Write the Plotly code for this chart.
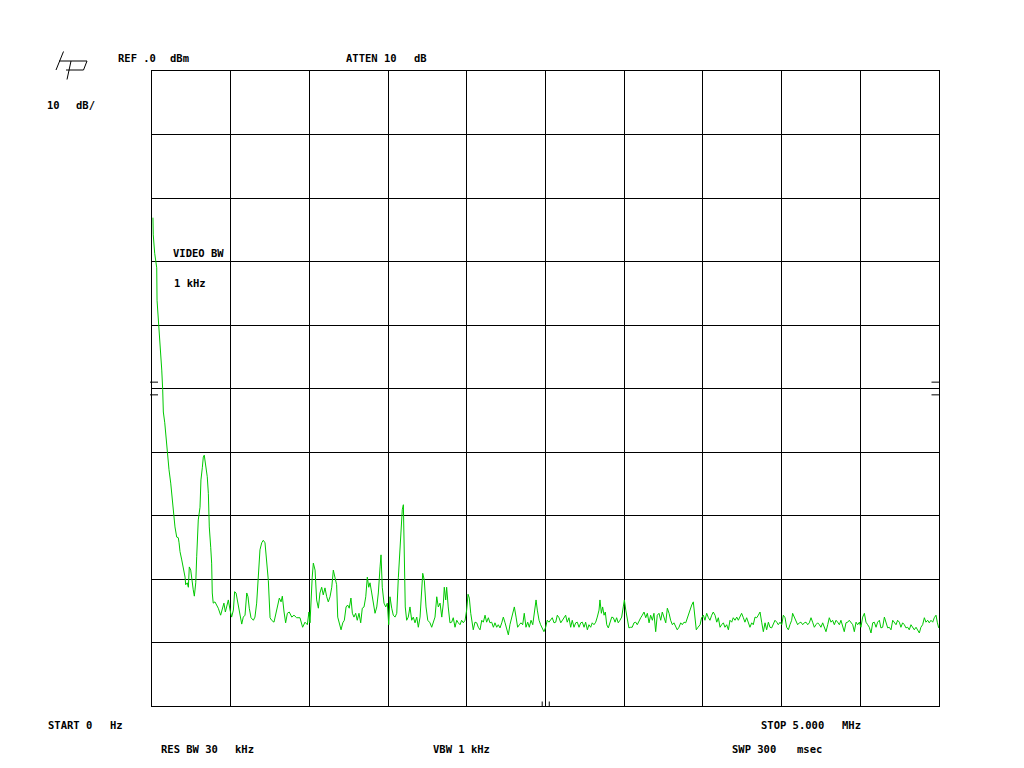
import plotly.graph_objects as go

# ---------------- data ----------------
START_MHZ = 0.0
STOP_MHZ = 5.0
REF_DBM = 0.0
DB_PER_DIV = 10
N_DIV = 10

FREQ_MHZ = [
    0.006, 0.008, 0.017, 0.024, 0.030, 0.032, 0.038, 0.043, 0.051, 0.062,
    0.068, 0.072, 0.081, 0.087, 0.093, 0.100, 0.108, 0.119, 0.125, 0.132,
    0.140, 0.146, 0.157, 0.167, 0.172, 0.178, 0.189, 0.199, 0.210, 0.214,
    0.224, 0.231, 0.237, 0.246, 0.252, 0.262, 0.269, 0.278, 0.284, 0.294,
    0.305, 0.311, 0.320, 0.326, 0.332, 0.341, 0.351, 0.358, 0.364, 0.373,
    0.379, 0.383, 0.389, 0.400, 0.411, 0.421, 0.436, 0.449, 0.457, 0.466,
    0.475, 0.485, 0.496, 0.506, 0.517, 0.525, 0.534, 0.542, 0.551, 0.559,
    0.570, 0.580, 0.591, 0.602, 0.610, 0.618, 0.629, 0.644, 0.654, 0.665,
    0.675, 0.686, 0.697, 0.707, 0.718, 0.729, 0.739, 0.750, 0.760, 0.775,
    0.786, 0.799, 0.809, 0.820, 0.828, 0.839, 0.849, 0.860, 0.872, 0.888,
    0.902, 0.919, 0.940, 0.957, 0.972, 0.987, 0.997, 1.004, 1.010, 1.018,
    1.025, 1.036, 1.046, 1.057, 1.067, 1.078, 1.088, 1.099, 1.110, 1.120,
    1.131, 1.142, 1.152, 1.163, 1.173, 1.180, 1.190, 1.201, 1.212, 1.222,
    1.233, 1.243, 1.253, 1.264, 1.273, 1.283, 1.294, 1.304, 1.315, 1.326,
    1.336, 1.347, 1.358, 1.368, 1.377, 1.385, 1.396, 1.406, 1.417, 1.428,
    1.438, 1.449, 1.455, 1.463, 1.474, 1.485, 1.495, 1.504, 1.512, 1.523,
    1.533, 1.544, 1.555, 1.565, 1.576, 1.582, 1.590, 1.597, 1.603, 1.609,
    1.618, 1.628, 1.639, 1.650, 1.660, 1.671, 1.682, 1.692, 1.703, 1.713,
    1.720, 1.730, 1.741, 1.752, 1.766, 1.777, 1.787, 1.798, 1.809, 1.819,
    1.830, 1.841, 1.851, 1.857, 1.866, 1.872, 1.882, 1.893, 1.904, 1.914,
    1.925, 1.936, 1.946, 1.957, 1.967, 1.978, 1.989, 1.999, 2.008, 2.016,
    2.025, 2.033, 2.041, 2.052, 2.063, 2.073, 2.084, 2.095, 2.105, 2.116,
    2.126, 2.137, 2.147, 2.158, 2.169, 2.179, 2.190, 2.200, 2.211, 2.222,
    2.232, 2.243, 2.253, 2.264, 2.274, 2.285, 2.296, 2.302, 2.313, 2.323,
    2.334, 2.344, 2.355, 2.365, 2.376, 2.387, 2.397, 2.408, 2.419, 2.429,
    2.440, 2.448, 2.459, 2.469, 2.480, 2.490, 2.501, 2.511, 2.522, 2.533,
    2.543, 2.554, 2.565, 2.575, 2.586, 2.597, 2.607, 2.618, 2.628, 2.638,
    2.649, 2.660, 2.670, 2.681, 2.692, 2.702, 2.713, 2.724, 2.734, 2.745,
    2.755, 2.766, 2.776, 2.787, 2.797, 2.808, 2.819, 2.829, 2.840, 2.846,
    2.855, 2.863, 2.872, 2.880, 2.889, 2.899, 2.910, 2.921, 2.931, 2.942,
    2.952, 2.962, 2.973, 2.984, 2.994, 3.001, 3.010, 3.020, 3.030, 3.041,
    3.051, 3.062, 3.073, 3.083, 3.094, 3.105, 3.115, 3.126, 3.137, 3.147,
    3.158, 3.168, 3.179, 3.189, 3.200, 3.210, 3.221, 3.232, 3.242, 3.253,
    3.264, 3.274, 3.285, 3.295, 3.306, 3.316, 3.327, 3.337, 3.348, 3.359,
    3.369, 3.380, 3.391, 3.401, 3.412, 3.418, 3.429, 3.439, 3.448, 3.458,
    3.469, 3.482, 3.492, 3.503, 3.513, 3.524, 3.535, 3.545, 3.556, 3.566,
    3.577, 3.588, 3.598, 3.609, 3.619, 3.630, 3.640, 3.651, 3.662, 3.672,
    3.683, 3.693, 3.704, 3.715, 3.725, 3.736, 3.746, 3.757, 3.767, 3.778,
    3.789, 3.799, 3.810, 3.820, 3.831, 3.842, 3.852, 3.863, 3.874, 3.884,
    3.895, 3.905, 3.916, 3.926, 3.937, 3.947, 3.958, 3.969, 3.979, 3.990,
    4.001, 4.011, 4.022, 4.032, 4.043, 4.053, 4.064, 4.070, 4.081, 4.091,
    4.102, 4.113, 4.123, 4.134, 4.144, 4.155, 4.166, 4.176, 4.187, 4.197,
    4.208, 4.218, 4.229, 4.240, 4.250, 4.261, 4.271, 4.282, 4.293, 4.303,
    4.314, 4.324, 4.335, 4.346, 4.356, 4.367, 4.377, 4.388, 4.398, 4.409,
    4.420, 4.430, 4.441, 4.452, 4.462, 4.473, 4.483, 4.494, 4.504, 4.515,
    4.526, 4.536, 4.547, 4.557, 4.568, 4.579, 4.589, 4.600, 4.610, 4.621,
    4.631, 4.642, 4.653, 4.663, 4.674, 4.684, 4.695, 4.706, 4.716, 4.727,
    4.737, 4.748, 4.758, 4.769, 4.780, 4.790, 4.801, 4.811, 4.822, 4.833,
    4.843, 4.854, 4.864, 4.875, 4.885, 4.896, 4.907, 4.917, 4.928, 4.938,
    4.949, 4.960, 4.970, 4.981, 4.989, 4.998,
]

LEVEL_DBM = [
    -23.1, -25.8, -28.7, -30.1, -31.0, -36.1, -38.1, -40.8, -43.9, -47.1,
    -50.2, -53.7, -55.4, -57.0, -58.6, -61.3, -62.8, -64.9, -66.5, -68.0,
    -70.2, -71.8, -73.4, -73.5, -74.3, -75.7, -77.0, -78.1, -79.7, -80.9,
    -80.6, -81.3, -78.1, -78.6, -80.2, -81.7, -82.7, -80.6, -76.5, -70.7,
    -68.7, -64.4, -62.4, -60.8, -60.5, -62.4, -63.9, -66.5, -71.8, -75.0,
    -77.5, -82.2, -83.8, -83.6, -84.1, -84.6, -85.7, -84.6, -83.8, -85.2,
    -84.4, -83.3, -84.9, -86.0, -84.9, -82.0, -82.2, -83.3, -84.9, -85.4,
    -87.1, -86.0, -85.7, -82.2, -82.8, -84.6, -86.1, -86.5, -86.0, -83.8,
    -80.2, -75.4, -74.3, -73.9, -74.3, -77.0, -80.2, -86.1, -86.5, -86.8,
    -85.7, -84.4, -83.0, -83.6, -82.7, -85.2, -86.9, -85.4, -85.2, -86.0,
    -85.7, -86.1, -86.1, -87.6, -86.8, -87.2, -85.2, -86.9, -83.3, -79.7,
    -77.5, -78.6, -83.3, -84.6, -82.2, -81.3, -82.5, -81.4, -82.8, -83.6,
    -82.8, -81.3, -78.6, -79.8, -80.9, -86.0, -86.9, -88.0, -86.9, -86.5,
    -84.4, -84.1, -84.6, -83.0, -85.4, -86.0, -85.4, -86.5, -85.4, -86.9,
    -84.6, -84.4, -82.8, -79.7, -81.3, -80.6, -82.2, -83.8, -85.4, -84.4,
    -82.2, -78.1, -76.2, -81.3, -83.8, -84.4, -83.8, -87.2, -82.8, -84.6,
    -85.7, -86.0, -85.4, -79.8, -74.3, -73.4, -69.1, -68.3, -75.0, -84.4,
    -86.5, -86.0, -84.4, -86.5, -86.0, -86.9, -86.0, -87.6, -86.0, -82.8,
    -79.1, -80.2, -84.4, -86.5, -86.9, -87.6, -86.9, -86.0, -82.8, -84.4,
    -83.8, -86.0, -83.8, -81.3, -83.3, -81.3, -84.4, -86.9, -86.8, -86.1,
    -87.6, -86.5, -86.9, -87.2, -86.5, -86.9, -86.5, -84.9, -82.4, -83.0,
    -85.4, -86.9, -88.0, -86.8, -86.9, -87.6, -88.0, -86.5, -86.8, -85.7,
    -86.8, -86.1, -86.9, -86.8, -87.6, -86.9, -87.6, -87.2, -87.7, -86.9,
    -86.0, -86.9, -87.7, -88.8, -87.2, -86.1, -85.4, -84.4, -86.0, -87.6,
    -87.2, -86.9, -87.2, -85.4, -87.6, -86.8, -87.6, -86.5, -87.2, -85.4,
    -83.3, -84.9, -86.5, -87.2, -87.7, -88.3, -87.6, -86.5, -86.8, -86.5,
    -86.1, -86.9, -86.8, -85.7, -86.1, -86.9, -86.5, -86.0, -85.7, -86.8,
    -86.1, -87.6, -86.5, -87.6, -86.9, -86.8, -87.6, -86.9, -86.8, -87.6,
    -86.8, -88.0, -87.2, -87.6, -86.9, -87.2, -86.8, -86.0, -84.9, -83.3,
    -85.4, -84.4, -85.7, -85.2, -87.2, -87.7, -86.9, -86.0, -86.1, -86.8,
    -86.1, -86.9, -86.5, -86.0, -84.4, -83.3, -84.9, -86.5, -87.7, -87.6,
    -87.6, -86.9, -86.8, -87.2, -86.5, -86.1, -85.7, -85.2, -86.1, -85.4,
    -86.9, -85.7, -86.5, -85.4, -88.3, -85.7, -85.4, -86.5, -85.2, -86.1,
    -86.9, -84.6, -85.4, -86.5, -87.2, -86.9, -87.6, -88.0, -87.6, -86.9,
    -87.2, -86.8, -86.9, -86.1, -85.4, -84.9, -84.1, -83.6, -86.1, -88.0,
    -87.6, -87.2, -86.1, -85.7, -86.5, -85.4, -86.1, -86.5, -85.7, -85.2,
    -85.7, -86.8, -86.1, -87.6, -87.2, -86.9, -87.6, -87.2, -88.0, -86.5,
    -86.8, -86.1, -86.5, -86.0, -86.5, -86.0, -85.4, -86.1, -86.8, -86.1,
    -86.8, -87.6, -86.9, -87.2, -86.0, -86.1, -85.7, -85.2, -86.9, -88.3,
    -86.9, -88.0, -86.8, -87.6, -87.7, -87.2, -86.5, -86.8, -87.2, -86.8,
    -87.2, -85.7, -86.1, -87.6, -88.0, -87.2, -86.5, -85.4, -86.1, -86.8,
    -87.2, -86.9, -86.8, -87.2, -86.9, -86.8, -87.2, -86.9, -86.1, -86.8,
    -87.6, -87.2, -86.9, -87.2, -87.6, -86.9, -87.7, -88.3, -87.2, -86.1,
    -86.8, -86.5, -87.2, -86.5, -86.8, -87.2, -86.5, -87.6, -88.3, -86.9,
    -86.8, -86.5, -86.8, -87.2, -88.3, -86.8, -87.2, -86.8, -87.6, -86.0,
    -85.4, -86.8, -87.2, -87.6, -88.5, -86.9, -86.8, -87.6, -86.8, -86.5,
    -87.7, -87.6, -86.0, -86.9, -87.7, -87.6, -88.0, -86.5, -86.8, -87.2,
    -86.5, -86.8, -87.6, -86.9, -87.2, -87.7, -87.6, -88.0, -87.2, -87.7,
    -88.0, -87.6, -88.0, -88.5, -87.6, -87.2, -86.1, -86.8, -86.5, -86.9,
    -86.5, -86.8, -86.1, -85.7, -86.8, -87.7,
]

# annotation texts with their (left x px, centre y px) in the 1024x768 page
LABEL_TEXTS = ["REF .0", "dBm", "ATTEN 10", "dB", "10", "dB/",
               "VIDEO BW", "1 kHz",
               "START 0", "Hz", "STOP 5.000", "MHz",
               "RES BW 30", "kHz", "VBW 1 kHz", "SWP 300", "msec"]
LABEL_POS = [(117, 58), (169, 58), (345, 58), (413, 58), (46, 105), (75, 105),
             (172, 253), (173, 283),
             (47, 725), (109, 725), (760, 725), (841, 725),
             (160, 749), (234, 749), (432, 749), (731, 749), (796, 749)]

# ---------------- layout geometry ----------------
W, H = 1024, 768
ML, MR, MT, MB = 152, 85, 71, 62
PW, PH = W - ML - MR, H - MT - MB


def px_x(x):
    return (x - ML) / PW


def px_y(y):
    return (H - MB - y) / PH


fig = go.Figure()
fig.add_trace(go.Scatter(
    x=FREQ_MHZ, y=LEVEL_DBM, mode="lines",
    line=dict(color="rgb(0,200,0)", width=1),
    hoverinfo="skip", showlegend=False,
))

annotations = []
for txt, (x, y) in zip(LABEL_TEXTS, LABEL_POS):
    annotations.append(dict(
        text="<b>" + txt + "</b>", x=px_x(x), y=px_y(y),
        xref="paper", yref="paper", xanchor="left", yanchor="middle",
        showarrow=False, borderpad=0,
        font=dict(family="DejaVu Sans Mono", size=10.5, color="black"),
    ))

shapes = []
# reference-level markers on both graticule edges
for lvl in (-49.0, -51.0):
    shapes.append(dict(type="line", xref="paper", yref="y",
                       x0=px_x(150), x1=px_x(158), y0=lvl, y1=lvl,
                       line=dict(color="black", width=1)))
    shapes.append(dict(type="line", xref="paper", yref="y",
                       x0=px_x(931.5), x1=px_x(939), y0=lvl, y1=lvl,
                       line=dict(color="black", width=1)))
# centre frequency markers at the bottom edge
for fmk in (2.479, 2.524):
    shapes.append(dict(type="line", xref="x", yref="paper",
                       x0=fmk, x1=fmk, y0=0, y1=px_y(701.5),
                       line=dict(color="black", width=1)))
# hp logo strokes
logo_strokes = [((63.5, 51.5), (56, 70)),
                ((59, 61), (87, 61)),
                ((71, 61), (67, 79.5)),
                ((87, 61), (83.5, 70)),
                ((83.5, 70), (66, 70))]
for (xa, ya), (xb, yb) in logo_strokes:
    shapes.append(dict(type="line", xref="paper", yref="paper",
                       x0=px_x(xa), y0=px_y(ya), x1=px_x(xb), y1=px_y(yb),
                       line=dict(color="black", width=1)))

axis_common = dict(
    showgrid=True, gridcolor="black", gridwidth=1,
    showline=True, linecolor="black", linewidth=1, mirror=True,
    zeroline=False, showticklabels=False, ticks="",
)

fig.update_layout(
    width=W, height=H,
    margin=dict(l=ML, r=MR, t=MT, b=MB, pad=0),
    paper_bgcolor="white", plot_bgcolor="white",
    xaxis=dict(range=[START_MHZ, STOP_MHZ], dtick=(STOP_MHZ - START_MHZ) / N_DIV,
               tick0=START_MHZ, **axis_common),
    yaxis=dict(range=[REF_DBM - DB_PER_DIV * N_DIV, REF_DBM], dtick=DB_PER_DIV,
               tick0=REF_DBM, **axis_common),
    annotations=annotations,
    shapes=shapes,
    showlegend=False,
)

fig.write_html("out.html", config={"displayModeBar": False},
               post_script="document.body.style.margin='0';document.body.style.overflow='hidden';")
